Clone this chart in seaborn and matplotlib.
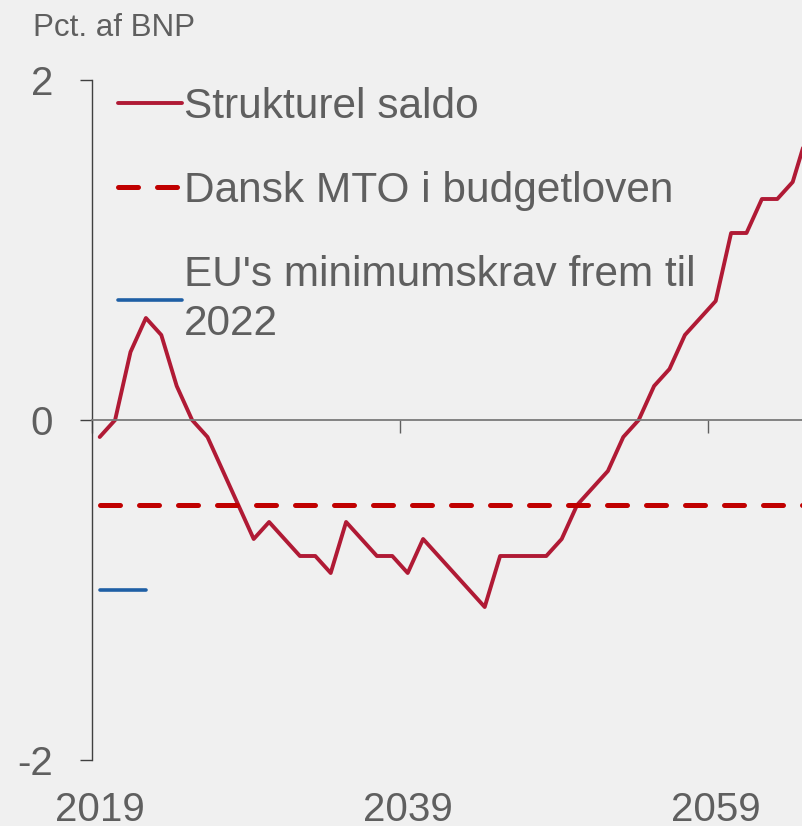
import seaborn as sns
import matplotlib.pyplot as plt
import pandas as pd

# Strukturel saldo, pct. af BNP
years = list(range(2019, 2066))
saldo = [-0.1, 0.0, 0.4, 0.6, 0.5, 0.2, 0.0, -0.1, -0.3, -0.5,
         -0.7, -0.6, -0.7, -0.8, -0.8, -0.9, -0.6, -0.7, -0.8, -0.8,
         -0.9, -0.7, -0.8, -0.9, -1.0, -1.1, -0.8, -0.8, -0.8, -0.8,
         -0.7, -0.5, -0.4, -0.3, -0.1, 0.0, 0.2, 0.3, 0.5, 0.6,
         0.7, 1.1, 1.1, 1.3, 1.3, 1.4, 1.7]

mto_years = [2019, 2065]
mto_values = [-0.5, -0.5]

eu_years = [2019, 2022]
eu_values = [-1.0, -1.0]

labels = ['Strukturel saldo', 'Dansk MTO i budgetloven',
          "EU's minimumskrav frem til\n2022"]
tick_years = [2019, 2039, 2059]

bg = '#f0f0f0'
txt = '#5f5f5f'

sns.set_theme(style='white')
plt.rcParams['font.family'] = ['Liberation Sans', 'DejaVu Sans']

df_saldo = pd.DataFrame({'year': years, 'value': saldo})
df_mto = pd.DataFrame({'year': mto_years, 'value': mto_values})
df_eu = pd.DataFrame({'year': eu_years, 'value': eu_values})

fig = plt.figure(figsize=(8.03, 8.26), dpi=100, facecolor=bg)
ax = fig.add_axes([92 / 803, 66 / 826, 711 / 803, 680 / 826], facecolor=bg)

sns.lineplot(data=df_saldo, x='year', y='value', ax=ax, color='#b01a35',
             lw=2.8, label=labels[0])
sns.lineplot(data=df_mto, x='year', y='value', ax=ax, color='#c00000',
             lw=3.6, dashes=False, label=labels[1])
ax.lines[-1].set_dashes((4.0, 3.8))
ax.lines[-1].set_dash_capstyle('round')
sns.lineplot(data=df_eu, x='year', y='value', ax=ax, color='#1f5fa5',
             lw=2.6, label=labels[2])

ax.set_xlim(2018.5, 2018.5 + 711 / 15.4)
ax.set_ylim(-2, 2)

for s in ['top', 'right']:
    ax.spines[s].set_visible(False)
ax.spines['left'].set_color('#404040')
ax.spines['left'].set_linewidth(1.0)
ax.spines['bottom'].set_position(('data', 0))
ax.spines['bottom'].set_color('#7a7a7a')
ax.spines['bottom'].set_linewidth(1.3)

ax.set_yticks([-2, 0, 2])
ax.set_yticklabels(['-2', '0', '2'])
ax.tick_params(axis='y', direction='out', length=9, width=1.0,
               color='#404040', left=True, labelsize=29, labelcolor=txt, pad=19)

ax.set_xticks([y - 0.5 for y in tick_years])
ax.tick_params(axis='x', direction='out', length=9, width=1.0,
               color='#606060', bottom=True, labelbottom=False)

sec = ax.secondary_xaxis('bottom')
sec.set_xticks(tick_years)
sec.set_xticklabels([str(y) for y in tick_years])
sec.tick_params(length=0, labelsize=29, labelcolor=txt, pad=22)
sec.spines['bottom'].set_visible(False)

ax.set_xlabel('')
ax.set_ylabel('')

leg = ax.legend(loc='upper left', bbox_to_anchor=(118 / 803, 1 - 87 / 826),
                bbox_transform=fig.transFigure, frameon=False, fontsize=30.5,
                handlelength=1.5, handletextpad=0.05, labelspacing=1.04,
                borderpad=0, borderaxespad=0)
for t in leg.get_texts():
    t.set_color(txt)
    t.set_linespacing(1.3)

fig.text(33 / 803, 1 - 36 / 826, 'Pct. af BNP', fontsize=22.5, color=txt,
         ha='left', va='baseline')

fig.savefig('out.png', dpi=100, facecolor=bg)
